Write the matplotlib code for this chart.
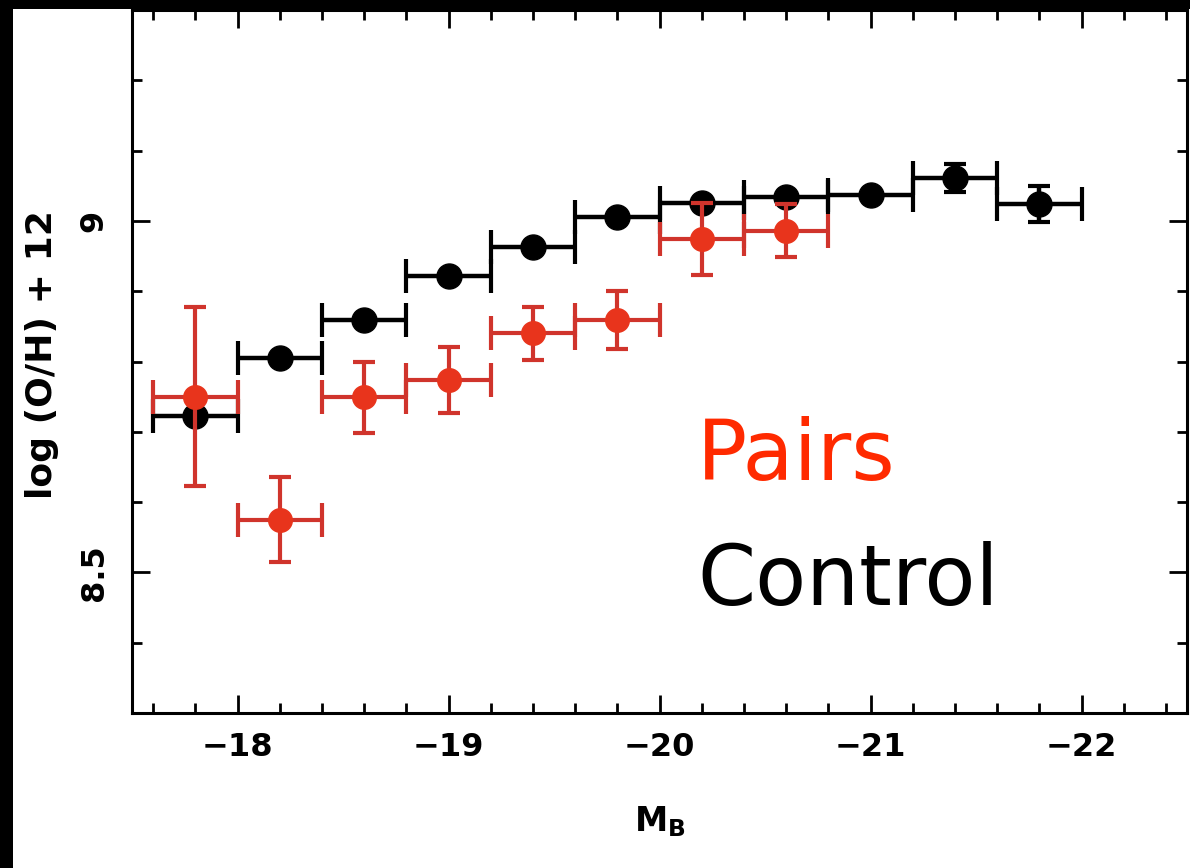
import numpy as np
import matplotlib
matplotlib.use("Agg")
from matplotlib import pyplot as plt
from matplotlib.patches import Rectangle

# Control sample (black)
ctrl_mb = [-17.8, -18.2, -18.6, -19.0, -19.4, -19.8, -20.2, -20.6, -21.0, -21.4, -21.8]
ctrl_oh = [8.722, 8.805, 8.859, 8.922, 8.963, 9.006, 9.026, 9.034, 9.037, 9.061, 9.024]
ctrl_yerr = [0.0, 0.0, 0.0, 0.0, 0.0, 0.0, 0.0, 0.0, 0.0, 0.02, 0.026]

# Pairs sample (red)
pair_mb = [-17.8, -18.2, -18.6, -19.0, -19.4, -19.8, -20.2, -20.6]
pair_oh = [8.75, 8.575, 8.749, 8.774, 8.84, 8.859, 8.974, 8.986]
pair_yerr = [0.127, 0.06, 0.05, 0.047, 0.038, 0.041, 0.051, 0.038]

bin_half = 0.2

W, H = 1190, 868
fig = plt.figure(figsize=(W / 100, H / 100), dpi=100, facecolor="black")
# white page inside the black frame
fig.patches.append(Rectangle((13 / W, 0), 1 - 13 / W, 1 - 9 / H,
                             transform=fig.transFigure, facecolor="white",
                             edgecolor="none", zorder=-10))

ax = fig.add_axes([132 / W, 1 - 713 / H, 1055 / W, 703 / H])
ax.set_facecolor("white")

red = "#e8341c"
red_bar = "#d0342c"

# black points
ax.errorbar(ctrl_mb, ctrl_oh, xerr=bin_half, fmt="none", ecolor="black",
            elinewidth=3.2, capsize=12, capthick=3, zorder=3)
ax.errorbar(ctrl_mb, ctrl_oh, yerr=ctrl_yerr, fmt="o", color="black",
            ms=18, elinewidth=3.2, capsize=8, capthick=3, zorder=3)

# red points
ax.errorbar(pair_mb, pair_oh, xerr=bin_half, fmt="none", ecolor=red_bar,
            elinewidth=3, capsize=12, capthick=3, zorder=4)
ax.errorbar(pair_mb, pair_oh, yerr=pair_yerr, fmt="o", color=red, ecolor=red_bar,
            ms=17, elinewidth=3, capsize=8, capthick=3, zorder=4)

ax.set_xlim(-17.5, -22.5)
ax.set_ylim(8.3, 9.3)
ax.set_xticks([-18, -19, -20, -21, -22])
ax.set_xticks(np.arange(-17.6, -22.5, -0.2), minor=True)
ax.set_yticks([8.5, 9.0])
ax.set_yticklabels(["8.5", "9"])
ax.set_yticks(np.arange(8.4, 9.25, 0.1), minor=True)
ax.set_xticklabels(["\u221218", "\u221219", "\u221220", "\u221221", "\u221222"])

ax.tick_params(which="both", direction="in", top=True, right=True, width=2)
ax.tick_params(which="major", length=13)
ax.tick_params(which="minor", length=7)
ax.tick_params(axis="x", pad=14, labelsize=23)
ax.tick_params(axis="y", pad=16, labelsize=23)
for lab in ax.get_xticklabels() + ax.get_yticklabels():
    lab.set_fontweight("bold")
for lab in ax.get_yticklabels():
    lab.set_rotation(90)
    lab.set_va("center")
for s in ax.spines.values():
    s.set_linewidth(2.2)

fig.text(42 / W, 1 - 355 / H, "log (O/H) + 12", rotation=90, ha="center",
         va="center", fontsize=26, fontweight="bold")
fig.text(660 / W, 1 - 822 / H, r"$\mathbf{M_B}$", ha="center", va="center",
         fontsize=24)

fig.text(697 / W, 1 - 480 / H, "Pairs", color="#ff2a00", fontsize=60,
         va="baseline", ha="left")
fig.text(697 / W, 1 - 605 / H, "Control", color="black", fontsize=60,
         va="baseline", ha="left")

fig.savefig("out.png", dpi=100, facecolor=fig.get_facecolor())
